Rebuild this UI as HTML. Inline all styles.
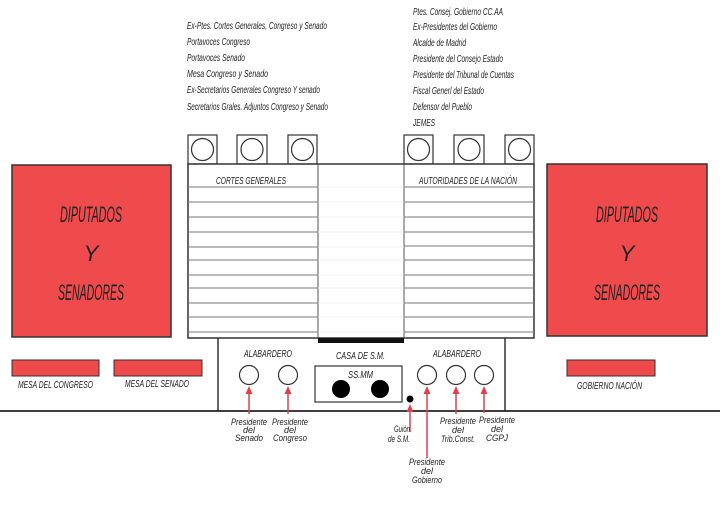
<!DOCTYPE html>
<html><head><meta charset="utf-8"><style>
html,body{margin:0;padding:0;background:#fff;}
svg{display:block;}
text{font-family:"Liberation Sans",sans-serif;font-style:italic;fill:#222;}
</style></head><body>
<svg width="720" height="505" viewBox="0 0 720 505" xmlns="http://www.w3.org/2000/svg">
<g font-size="10.5">
<text x="187" y="29" textLength="140" lengthAdjust="spacingAndGlyphs">Ex-Ptes. Cortes Generales, Congreso y Senado</text>
<text x="187" y="45" textLength="63" lengthAdjust="spacingAndGlyphs">Portavoces Congreso</text>
<text x="187" y="61" textLength="58" lengthAdjust="spacingAndGlyphs">Portavoces Senado</text>
<text x="187" y="77" textLength="81" lengthAdjust="spacingAndGlyphs">Mesa Congreso y Senado</text>
<text x="187" y="93" textLength="133" lengthAdjust="spacingAndGlyphs">Ex-Secretarios Generales Congreso Y senado</text>
<text x="187" y="110" textLength="141" lengthAdjust="spacingAndGlyphs">Secretarios Grales. Adjuntos Congreso y Senado</text>
<text x="413" y="15" textLength="90" lengthAdjust="spacingAndGlyphs">Ptes. Consej. Gobierno CC.AA</text>
<text x="413" y="30" textLength="84" lengthAdjust="spacingAndGlyphs">Ex-Presidentes del Gobierno</text>
<text x="413" y="46" textLength="53" lengthAdjust="spacingAndGlyphs">Alcalde de Madrid</text>
<text x="413" y="62" textLength="90" lengthAdjust="spacingAndGlyphs">Presidente del Consejo Estado</text>
<text x="413" y="78" textLength="101" lengthAdjust="spacingAndGlyphs">Presidente del Tribunal de Cuentas</text>
<text x="413" y="94" textLength="71" lengthAdjust="spacingAndGlyphs">Fiscal Generl del Estado</text>
<text x="413" y="110" textLength="59" lengthAdjust="spacingAndGlyphs">Defensor del Pueblo</text>
<text x="413" y="126" textLength="22" lengthAdjust="spacingAndGlyphs">JEMES</text>
</g>
<g fill="#fff" stroke="#333" stroke-width="1.2">
<rect x="188" y="135" width="29" height="29"/><circle cx="202.5" cy="149.5" r="11"/>
<rect x="237" y="135" width="30" height="29"/><circle cx="252" cy="149.5" r="11"/>
<rect x="288" y="135" width="29" height="29"/><circle cx="302.5" cy="149.5" r="11"/>
<rect x="404" y="135" width="29" height="29"/><circle cx="418.5" cy="149.5" r="11"/>
<rect x="454" y="135" width="30" height="29"/><circle cx="469" cy="149.5" r="11"/>
<rect x="505" y="135" width="29" height="29"/><circle cx="519.5" cy="149.5" r="11"/>
</g>
<rect x="188" y="164" width="346" height="174" fill="#fff" stroke="#333" stroke-width="1.5"/>
<g stroke="#555" stroke-width="1">
<line x1="318" y1="164" x2="318" y2="338"/><line x1="404" y1="164" x2="404" y2="338"/>
</g>
<g stroke="#777" stroke-width="0.9">
<line x1="188" y1="187" x2="318" y2="187"/><line x1="404" y1="187" x2="534" y2="187"/>
<line x1="188" y1="202" x2="318" y2="202"/><line x1="404" y1="202" x2="534" y2="202"/>
<line x1="188" y1="217" x2="318" y2="217"/><line x1="404" y1="217" x2="534" y2="217"/>
<line x1="188" y1="232" x2="318" y2="232"/><line x1="404" y1="232" x2="534" y2="232"/>
<line x1="188" y1="247" x2="318" y2="247"/><line x1="404" y1="246" x2="534" y2="246"/>
<line x1="188" y1="260" x2="318" y2="260"/><line x1="404" y1="260" x2="534" y2="260"/>
<line x1="188" y1="275" x2="318" y2="275"/><line x1="404" y1="275" x2="534" y2="275"/>
<line x1="188" y1="288" x2="318" y2="288"/><line x1="404" y1="288" x2="534" y2="288"/>
<line x1="188" y1="303" x2="318" y2="303"/><line x1="404" y1="303" x2="534" y2="303"/>
<line x1="188" y1="317" x2="318" y2="317"/><line x1="404" y1="317" x2="534" y2="317"/>
<line x1="188" y1="332" x2="318" y2="332"/><line x1="404" y1="332" x2="534" y2="332"/>
</g>
<g stroke="#eee" stroke-width="0.8">
<line x1="318" y1="187" x2="404" y2="187"/><line x1="318" y1="202" x2="404" y2="202"/><line x1="318" y1="217" x2="404" y2="217"/><line x1="318" y1="232" x2="404" y2="232"/><line x1="318" y1="247" x2="404" y2="247"/><line x1="318" y1="260" x2="404" y2="260"/><line x1="318" y1="275" x2="404" y2="275"/><line x1="318" y1="288" x2="404" y2="288"/><line x1="318" y1="303" x2="404" y2="303"/><line x1="318" y1="317" x2="404" y2="317"/><line x1="318" y1="332" x2="404" y2="332"/>
</g>
<text x="216" y="184" font-size="10" textLength="70" lengthAdjust="spacingAndGlyphs">CORTES GENERALES</text>
<text x="419" y="184" font-size="10" textLength="98" lengthAdjust="spacingAndGlyphs">AUTORIDADES DE LA NACIÓN</text>
<rect x="318" y="338" width="86" height="5" fill="#111"/>
<g fill="#ef4a4c" stroke="#333" stroke-width="1.5">
<rect x="12" y="165" width="159" height="172"/>
<rect x="547" y="164" width="160" height="172"/>
<rect x="12" y="360" width="87" height="16" stroke-width="1"/>
<rect x="114" y="360" width="88" height="16" stroke-width="1"/>
<rect x="567" y="360" width="88" height="16" stroke-width="1"/>
</g>
<g font-size="22" text-anchor="middle">
<text x="91" y="222" textLength="62" lengthAdjust="spacingAndGlyphs">DIPUTADOS</text>
<text x="91" y="261">Y</text>
<text x="91" y="300" textLength="66" lengthAdjust="spacingAndGlyphs">SENADORES</text>
<text x="627" y="222" textLength="62" lengthAdjust="spacingAndGlyphs">DIPUTADOS</text>
<text x="627" y="261">Y</text>
<text x="627" y="300" textLength="66" lengthAdjust="spacingAndGlyphs">SENADORES</text>
</g>
<g font-size="10">
<text x="18" y="388" textLength="75" lengthAdjust="spacingAndGlyphs">MESA DEL CONGRESO</text>
<text x="125" y="387" textLength="64" lengthAdjust="spacingAndGlyphs">MESA DEL SENADO</text>
<text x="577" y="389" textLength="65" lengthAdjust="spacingAndGlyphs">GOBIERNO NACIÓN</text>
</g>
<path d="M218,338 V411 M505,338 V411" stroke="#333" stroke-width="1.5" fill="none"/>
<line x1="0" y1="411" x2="720" y2="411" stroke="#222" stroke-width="1.8"/>
<g font-size="10">
<text x="244" y="357" textLength="48" lengthAdjust="spacingAndGlyphs">ALABARDERO</text>
<text x="336" y="359" textLength="49" lengthAdjust="spacingAndGlyphs">CASA DE S.M.</text>
<text x="433" y="357" textLength="48" lengthAdjust="spacingAndGlyphs">ALABARDERO</text>
<text x="348" y="378" textLength="25" lengthAdjust="spacingAndGlyphs">SS.MM</text>
</g>
<rect x="315" y="366" width="87" height="36" fill="none" stroke="#333" stroke-width="1.2"/>
<g fill="#fff" stroke="#333" stroke-width="1.2">
<circle cx="249" cy="375" r="9.5"/><circle cx="288" cy="375" r="9.5"/>
<circle cx="427" cy="375" r="9.5"/><circle cx="456" cy="375" r="9.5"/><circle cx="484" cy="375" r="9.5"/>
</g>
<circle cx="341" cy="389" r="9" fill="#000"/><circle cx="380" cy="389" r="9" fill="#000"/>
<circle cx="410" cy="399" r="3.5" fill="#000"/>
<g stroke="#e0404a" stroke-width="1.5">
<line x1="249" y1="392" x2="249" y2="414"/>
<line x1="288" y1="392" x2="288" y2="414"/>
<line x1="410" y1="410" x2="410" y2="432"/>
<line x1="427" y1="392" x2="427" y2="458"/>
<line x1="456" y1="392" x2="456" y2="414"/>
<line x1="484" y1="392" x2="484" y2="413"/>
</g>
<g fill="#e0404a">
<polygon points="249,386 245.5,394 252.5,394"/>
<polygon points="288,386 284.5,394 291.5,394"/>
<polygon points="410,404 406.5,412 413.5,412"/>
<polygon points="427,386 423.5,394 430.5,394"/>
<polygon points="456,386 452.5,394 459.5,394"/>
<polygon points="484,386 480.5,394 487.5,394"/>
</g>
<g font-size="9.5" text-anchor="middle">
<text x="249" y="425" textLength="36" lengthAdjust="spacingAndGlyphs">Presidente</text><text x="249" y="433" textLength="12" lengthAdjust="spacingAndGlyphs">del</text><text x="249" y="441" textLength="28" lengthAdjust="spacingAndGlyphs">Senado</text>
<text x="290" y="425" textLength="36" lengthAdjust="spacingAndGlyphs">Presidente</text><text x="290" y="433" textLength="12" lengthAdjust="spacingAndGlyphs">del</text><text x="290" y="441" textLength="34" lengthAdjust="spacingAndGlyphs">Congreso</text>
<text x="402" y="432" textLength="16" lengthAdjust="spacingAndGlyphs">Guión</text><text x="399" y="442" textLength="22" lengthAdjust="spacingAndGlyphs">de S.M.</text>
<text x="427" y="465" textLength="36" lengthAdjust="spacingAndGlyphs">Presidente</text><text x="427" y="474" textLength="12" lengthAdjust="spacingAndGlyphs">del</text><text x="427" y="483" textLength="30" lengthAdjust="spacingAndGlyphs">Gobierno</text>
<text x="458" y="424" textLength="36" lengthAdjust="spacingAndGlyphs">Presidente</text><text x="458" y="433" textLength="12" lengthAdjust="spacingAndGlyphs">del</text><text x="458" y="442" textLength="34" lengthAdjust="spacingAndGlyphs">Trib.Const.</text>
<text x="497" y="423" textLength="36" lengthAdjust="spacingAndGlyphs">Presidente</text><text x="497" y="432" textLength="12" lengthAdjust="spacingAndGlyphs">del</text><text x="497" y="441" textLength="22" lengthAdjust="spacingAndGlyphs">CGPJ</text>
</g>
</svg>
</body></html>
